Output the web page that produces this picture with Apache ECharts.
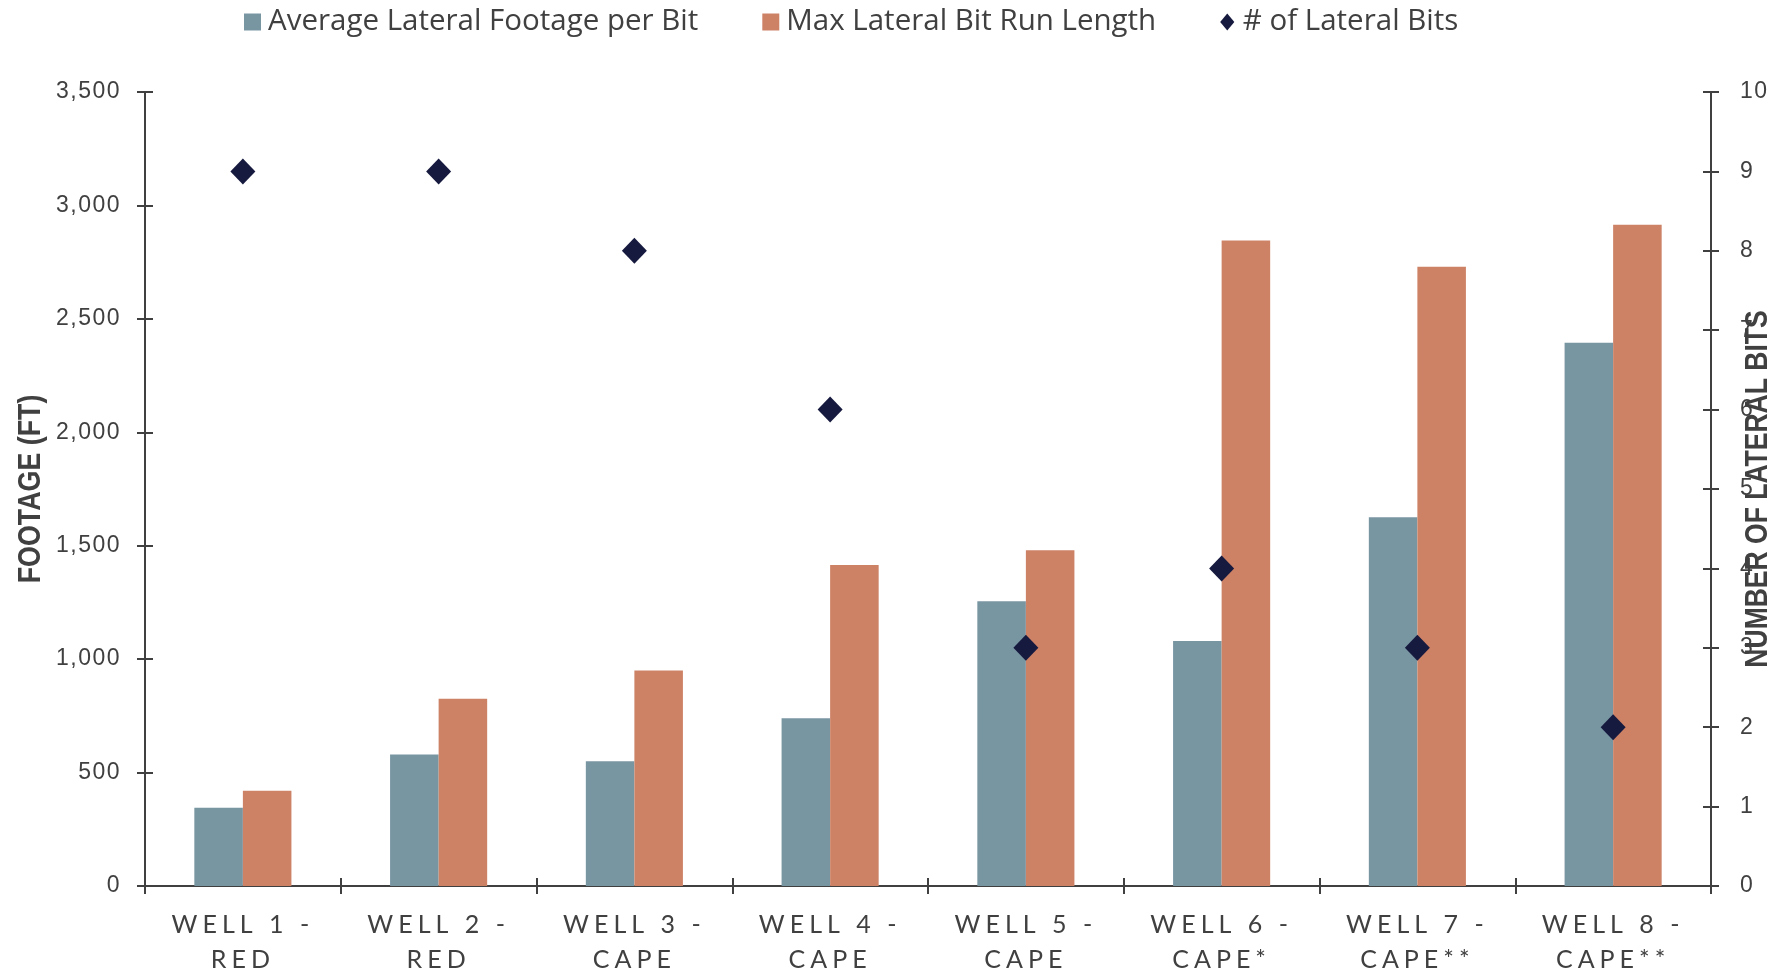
<!DOCTYPE html>
<html>
<head>
<meta charset="utf-8">
<title>Lateral Bit Performance by Well</title>
<script src="https://cdn.jsdelivr.net/npm/echarts@6/dist/echarts.min.js"></script>
<style>
  html, body { margin: 0; padding: 0; background: #ffffff; }
  #chart { width: 1777px; height: 973px; }
</style>
</head>
<body>
<div id="chart"></div>
<script>
// ---- data ----
const wells = ['WELL 1 -\nRED', 'WELL 2 -\nRED', 'WELL 3 -\nCAPE', 'WELL 4 -\nCAPE',
               'WELL 5 -\nCAPE', 'WELL 6 -\nCAPE*', 'WELL 7 -\nCAPE**', 'WELL 8 -\nCAPE**'];
const avgFootagePerBit = [345, 580, 550, 740, 1255, 1080, 1625, 2395];
const maxBitRunLength = [420, 825, 950, 1415, 1480, 2845, 2730, 2915];
const lateralBitCount = [9, 9, 8, 6, 3, 4, 3, 2];

const footageTicks = [0, 500, 1000, 1500, 2000, 2500, 3000, 3500];
const bitTicks = [0, 1, 2, 3, 4, 5, 6, 7, 8, 9, 10];

// ---- tracked (letter-spaced) text for the axis labels ----
function trackingFor(font) {
  if (/Lato/.test(font)) return 5;                       // category labels
  if (/\b23px\b/.test(font) && /Liberation Sans/.test(font)) return 1.5; // value labels
  return 0;
}
(function () {
  const proto = CanvasRenderingContext2D.prototype;
  if (!('letterSpacing' in proto)) return;
  const fill = proto.fillText, measure = proto.measureText;
  proto.fillText = function (t, x, y, w) {
    this.letterSpacing = trackingFor(this.font) + 'px';
    return w === undefined ? fill.call(this, t, x, y) : fill.call(this, t, x, y, w);
  };
  proto.measureText = function (t) {
    this.letterSpacing = trackingFor(this.font) + 'px';
    return measure.call(this, t);
  };
})();

// ---- styles ----
const INK = '#404040';
const BLUE = '#7895A2';
const ORANGE = '#CD8266';
const NAVY = '#171A3F';

const footMin = footageTicks[0], footMax = footageTicks[footageTicks.length - 1];
const footStep = footageTicks[1] - footageTicks[0];
const bitMin = bitTicks[0], bitMax = bitTicks[bitTicks.length - 1];
const bitStep = bitTicks[1] - bitTicks[0];

const tickLabel = { color: INK, fontFamily: 'Liberation Sans', fontSize: 23 };
const titleFont = 'bold 31px "Liberation Sans"';
const tick = { show: true, length: 8, lineStyle: { color: INK, width: 2 } };
const innerTick = { show: true, inside: true, length: 8, lineStyle: { color: INK, width: 2 } };
const axisLine = { show: true, lineStyle: { color: INK, width: 2 } };

const GRID = { left: 145, right: 66, top: 92, bottom: 87 };
const W = 1777, H = 973;
const midY = GRID.top + (H - GRID.top - GRID.bottom) / 2;

const chart = echarts.init(document.getElementById('chart'), null, { renderer: 'canvas' });

chart.setOption({
  backgroundColor: '#ffffff',
  animation: false,
  legend: {
    top: 2,
    left: 239,
    itemWidth: 17,
    itemHeight: 17,
    itemGap: 64,
    textStyle: { color: INK, fontFamily: 'Open Sans', fontSize: 29.5, padding: [0, 0, 0, 2] },
    data: [
      { name: 'Average Lateral Footage per Bit', icon: 'rect' },
      { name: 'Max Lateral Bit Run Length', icon: 'rect' },
      { name: '# of Lateral Bits', icon: 'path://M7.5,0 L15,9 L7.5,18 L0,9 Z' }
    ]
  },
  grid: Object.assign({ containLabel: false, outerBoundsMode: 'none' }, GRID),
  // rotated, narrow-set axis titles
  graphic: [
    {
      type: 'text', x: 31, y: midY, rotation: Math.PI / 2, scaleX: 0.865,
      style: { text: 'FOOTAGE (FT)', font: titleFont, fill: INK,
               align: 'center', verticalAlign: 'middle', textAlign: 'center', textVerticalAlign: 'middle' }
    },
    {
      type: 'text', x: 1758, y: midY, rotation: Math.PI / 2, scaleX: 0.855,
      style: { text: 'NUMBER OF LATERAL BITS', font: titleFont, fill: INK,
               align: 'center', verticalAlign: 'middle', textAlign: 'center', textVerticalAlign: 'middle' }
    }
  ],
  xAxis: [
    {
      type: 'category',
      data: wells,
      boundaryGap: true,
      axisLine: axisLine,
      axisTick: tick,
      axisLabel: { interval: 0, margin: 21, color: INK, fontFamily: 'Lato', fontSize: 25, lineHeight: 35 },
      splitLine: { show: false }
    },
    {
      // inner half of the crossing tick marks
      type: 'category',
      data: wells,
      position: 'bottom',
      boundaryGap: true,
      axisLine: { show: false },
      axisTick: innerTick,
      axisLabel: { show: false },
      splitLine: { show: false }
    }
  ],
  yAxis: [
    {
      type: 'value',
      position: 'left',
      min: footMin, max: footMax, interval: footStep,
      axisLine: axisLine,
      axisTick: tick,
      axisLabel: Object.assign({ margin: 24, formatter: v => v.toLocaleString('en-US') }, tickLabel),
      splitLine: { show: false }
    },
    {
      type: 'value',
      position: 'right',
      min: bitMin, max: bitMax, interval: bitStep,
      axisLine: axisLine,
      axisTick: tick,
      axisLabel: Object.assign({ margin: 29 }, tickLabel),
      splitLine: { show: false }
    },
    {
      // inner half of the left crossing ticks
      type: 'value',
      position: 'left',
      min: footMin, max: footMax, interval: footStep,
      axisLine: { show: false },
      axisTick: innerTick,
      axisLabel: { show: false },
      splitLine: { show: false }
    },
    {
      // inner half of the right crossing ticks
      type: 'value',
      position: 'right',
      min: bitMin, max: bitMax, interval: bitStep,
      axisLine: { show: false },
      axisTick: innerTick,
      axisLabel: { show: false },
      splitLine: { show: false }
    }
  ],
  series: [
    {
      name: 'Average Lateral Footage per Bit',
      type: 'bar',
      xAxisIndex: 0,
      yAxisIndex: 0,
      data: avgFootagePerBit,
      barWidth: '24.8%',
      barGap: '0%',
      itemStyle: { color: BLUE },
      z: 2
    },
    {
      name: 'Max Lateral Bit Run Length',
      type: 'bar',
      xAxisIndex: 0,
      yAxisIndex: 0,
      data: maxBitRunLength,
      barWidth: '24.8%',
      barGap: '0%',
      itemStyle: { color: ORANGE },
      z: 2
    },
    {
      name: '# of Lateral Bits',
      type: 'scatter',
      xAxisIndex: 0,
      yAxisIndex: 1,
      data: lateralBitCount,
      symbol: 'diamond',
      symbolSize: [25, 26],
      itemStyle: { color: NAVY, opacity: 1 },
      z: 4
    }
  ]
});
</script>
</body>
</html>
